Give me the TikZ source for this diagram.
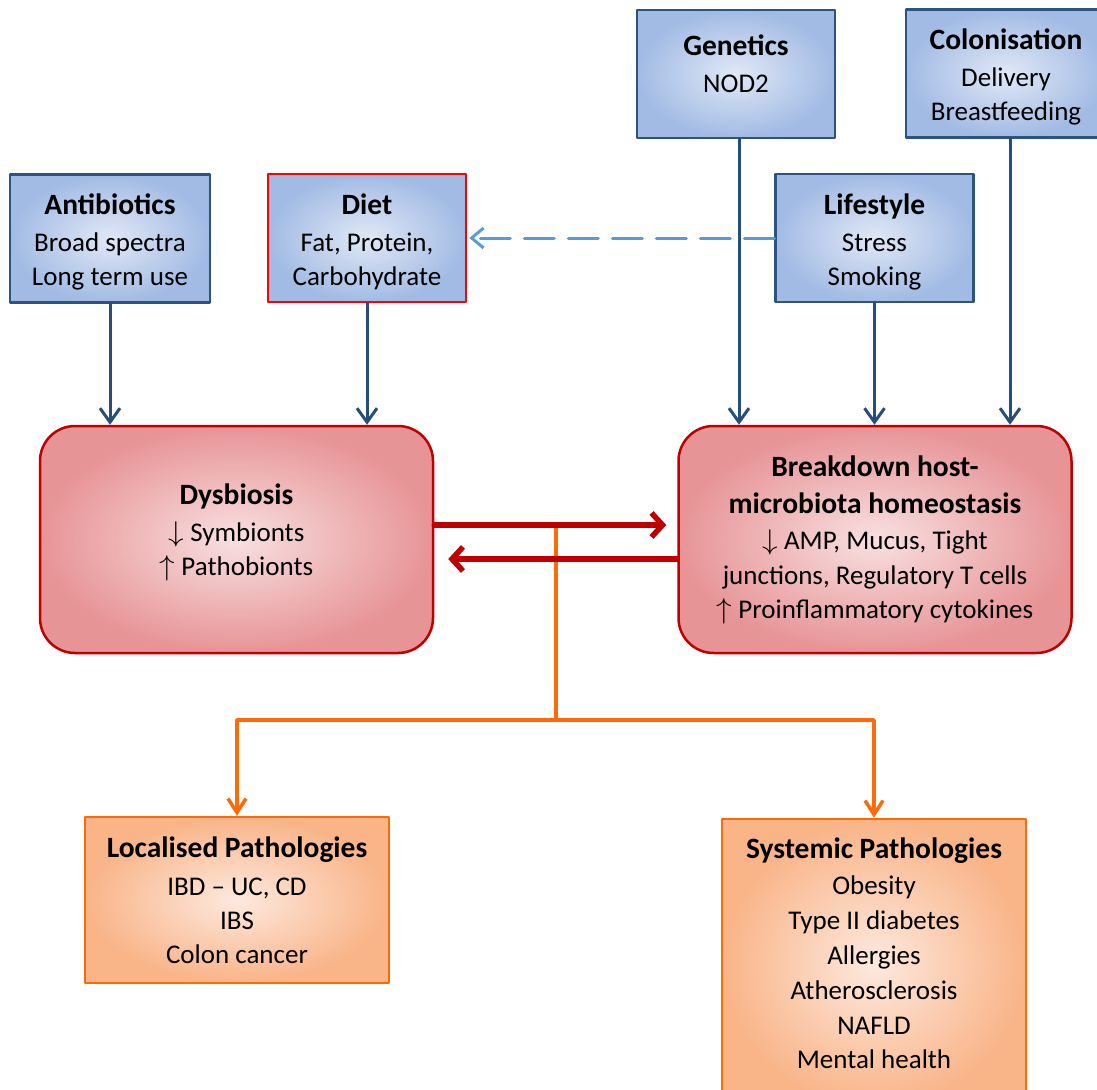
\documentclass[tikz,border=0pt]{standalone}
\usepackage{fontspec}
\setmainfont{Carlito}
\usetikzlibrary{arrows.meta}
\definecolor{factorblue}{RGB}{44,84,128}
\definecolor{arrowblue}{RGB}{38,78,122}
\definecolor{blueinner}{RGB}{224,232,246}
\definecolor{blueouter}{RGB}{162,187,228}
\definecolor{dietred}{RGB}{255,0,0}
\definecolor{statered}{RGB}{192,0,0}
\definecolor{redinner}{RGB}{248,224,225}
\definecolor{redouter}{RGB}{231,148,150}
\definecolor{pathorange}{RGB}{255,106,8}
\definecolor{orangeinner}{RGB}{253,233,222}
\definecolor{orangeouter}{RGB}{249,180,136}
\definecolor{hintblue}{RGB}{91,155,213}
\newcommand\hd[1]{{\bfseries\fontsize{29.5}{34}\selectfont #1}}
\newcommand\hdtop[1]{\hd{\rule{0pt}{28pt}#1}}
\newcommand\dn{\scalebox{1.25}[1.15]{$\downarrow$}}
\newcommand\up{\scalebox{1.25}[1.15]{$\uparrow$}}
\begin{document}
\begin{tikzpicture}[x=1pt, y=-1pt, font=\fontsize{27}{34}\selectfont, line join=round, line cap=round,
    factor/.style={draw=factorblue, line width=2.5pt, shading=radial, inner color=blueinner, outer color=blueouter, minimum width=198pt, minimum height=128pt, inner sep=0pt, align=center},
    state/.style={draw=statered, line width=2.5pt, rounded corners=35pt, shading=radial, inner color=redinner, outer color=redouter, minimum width=393pt, minimum height=227pt, inner sep=0pt, align=center},
    disease/.style={draw=pathorange, line width=2.5pt, shading=radial, inner color=orangeinner, outer color=orangeouter, minimum width=304pt, inner sep=0pt, align=center},
    feed/.style={draw=arrowblue, line width=3pt, -{Straight Barb[length=14pt, width=20pt]}},
    hint/.style={draw=hintblue, line width=3pt, dash pattern=on 30pt off 14pt, -{Straight Barb[length=12pt, width=20pt]}},
    vicious/.style={draw=statered, line width=5.5pt, -{Straight Barb[length=11pt, width=24pt]}},
    branch/.style={draw=pathorange, line width=3.5pt}]
  \useasboundingbox (0,0) rectangle (1097,1089);
  \clip (0,0) rectangle (1097,1089);
  % factors
  \node[factor, minimum width=200pt] (anti) at (110,238.5) {\hdtop{Antibiotics}\\[3pt]Broad spectra\\Long term use};
  \node[factor, draw=dietred] (diet) at (367,238) {\hdtop{Diet}\\[3pt]Fat, Protein,\\Carbohydrate};
  \node[factor] (gen) at (736,74) {\hd{Genetics}\\[3pt]NOD2\\[-14pt]~};
  \node[factor, minimum width=200pt] (colon) at (1006,73.5) {\hdtop{Colonisation}\\[3pt]Delivery\\Breastfeeding};
  \node[factor] (life) at (874.5,238) {\hdtop{Lifestyle}\\[3pt]Stress\\Smoking};
  % states
  \node[state] (dys) at (236.5,539.5) {\hd{Dysbiosis}\\[3pt]\dn\ Symbionts\\\up\ Pathobionts\\[-14pt]~};
  \node[state] (brk) at (875,539.5) {\hd{Breakdown host-}\\[3pt]\hd{microbiota homeostasis}\\[2pt]\dn\ AMP, Mucus, Tight\\[1pt]junctions, Regulatory T cells\\\up\ Proinflammatory cytokines};
  % pathologies
  \node[disease, minimum height=166pt] (loc) at (237,900) {\hd{Localised Pathologies}\\[4pt]IBD – UC, CD\\IBS\\Colon cancer};
  \node[disease, minimum height=290pt, font=\fontsize{27}{34.8}\selectfont] (sys) at (874,964) {\hd{Systemic Pathologies}\\[2pt]Obesity\\Type II diabetes\\Allergies\\Atherosclerosis\\NAFLD\\Mental health\\[-13pt]~};
  % connectors
  \draw[hint, shorten >=2pt] (life) -- (diet);
  \draw[feed] (anti) -- (anti |- dys.north);
  \draw[feed] (diet) -- (diet |- dys.north);
  \draw[feed] ([xshift=3pt]gen.south) -- ([xshift=3pt]gen.south |- brk.north);
  \draw[feed] (life) -- (life |- brk.north);
  \draw[feed] ([xshift=4pt]colon.south) -- ([xshift=4pt]colon.south |- brk.north);
  \coordinate (tap) at (556,525);
  \coordinate (fork) at (556,720);
  \draw[branch] (tap) -- (fork);
  \draw[branch, -{Straight Barb[length=14pt, width=18pt]}] (fork) -| (loc);
  \draw[branch, -{Straight Barb[length=14pt, width=18pt]}] (fork) -| (sys);
  \draw[vicious, shorten >=11pt] ([yshift=14.5pt]dys.east) -- ([yshift=14.5pt]dys.east -| brk.west);
  \draw[vicious, shorten >=14pt] ([yshift=-19.5pt]dys.east -| brk.west) -- ([yshift=-19.5pt]dys.east);
\end{tikzpicture}
\end{document}
